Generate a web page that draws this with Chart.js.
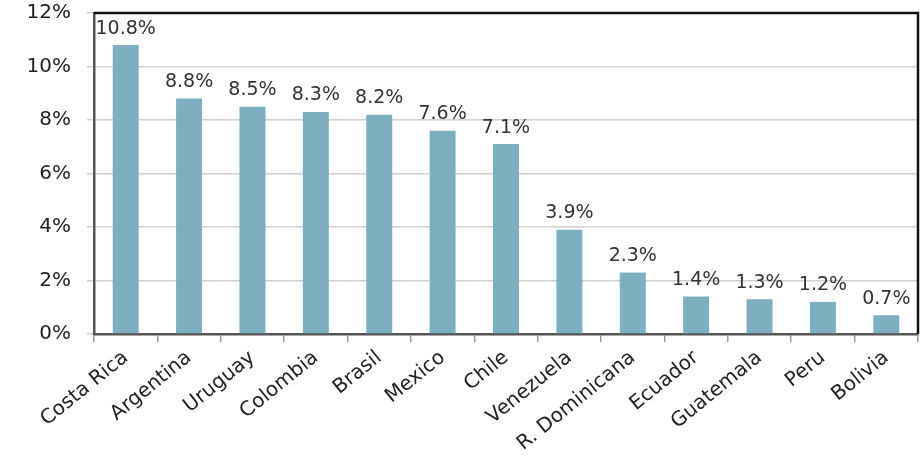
<!DOCTYPE html>
<html>
<head>
<meta charset="utf-8">
<script src="https://cdn.jsdelivr.net/npm/chart.js@4"></script>
<style>
  html, body { margin: 0; padding: 0; background: #fff; }
  #wrap { width: 924px; height: 465px; position: relative; }
</style>
</head>
<body>
<div id="wrap"><canvas id="chart"></canvas></div>
<script>
const countries = ["Costa Rica", "Argentina", "Uruguay", "Colombia", "Brasil", "Mexico", "Chile",
  "Venezuela", "R. Dominicana", "Ecuador", "Guatemala", "Peru", "Bolivia"];
const shares = [10.8, 8.8, 8.5, 8.3, 8.2, 7.6, 7.1, 3.9, 2.3, 1.4, 1.3, 1.2, 0.7];
const yTicks = [0, 2, 4, 6, 8, 10, 12];

const FONT = "'DejaVu Sans', sans-serif";

// labels above each bar
const barLabels = {
  id: "barLabels",
  afterDatasetsDraw(chart) {
    const ctx = chart.ctx;
    const meta = chart.getDatasetMeta(0);
    ctx.save();
    ctx.font = "19px " + FONT;
    ctx.fillStyle = "#333";
    ctx.textAlign = "center";
    ctx.textBaseline = "bottom";
    meta.data.forEach((bar, i) => {
      ctx.fillText(shares[i].toFixed(1) + "%", bar.x, bar.y - 7);
    });
    ctx.restore();
  }
};

// black frame on top and right of plot area
const frame = {
  id: "frame",
  afterDraw(chart) {
    const a = chart.chartArea;
    const ctx = chart.ctx;
    ctx.save();
    ctx.strokeStyle = "#111";
    ctx.lineWidth = 2.5;
    ctx.beginPath();
    ctx.moveTo(a.left, a.top);
    ctx.lineTo(a.right, a.top);
    ctx.lineTo(a.right, a.bottom);
    ctx.stroke();
    ctx.restore();
  }
};

new Chart(document.getElementById("chart"), {
  type: "bar",
  data: {
    labels: countries,
    datasets: [{
      data: shares,
      backgroundColor: "#7eafbf",
      borderWidth: 0,
      barPercentage: 0.82,
      categoryPercentage: 0.5
    }]
  },
  options: {
    responsive: true,
    maintainAspectRatio: false,
    animation: false,
    layout: { padding: { top: 13, right: 6, left: 0, bottom: 0 } },
    plugins: {
      legend: { display: false },
      tooltip: { enabled: false }
    },
    scales: {
      x: {
        grid: { drawOnChartArea: false, tickLength: 8, color: "#999", lineWidth: 1.5 },
        border: { color: "#555", width: 2.5 },
        ticks: {
          color: "#222",
          font: { family: FONT, size: 20 },
          minRotation: 39,
          maxRotation: 39,
          padding: 4
        },
        afterFit(scale) {
          scale.height = 131;
          scale.paddingLeft = 0;
          scale.paddingRight = 0;
        }
      },
      y: {
        min: yTicks[0],
        max: yTicks[yTicks.length - 1],
        afterBuildTicks(scale) { scale.ticks = yTicks.map(v => ({ value: v })); },
        grid: { color: "#d0d0d0", lineWidth: 1.5, tickLength: 7 },
        border: { color: "#555", width: 2.5 },
        ticks: {
          color: "#222",
          font: { family: FONT, size: 20 },
          padding: 16,
          callback: v => v + "%"
        },
        afterFit(scale) {
          scale.width = 94;
          scale.paddingTop = 0;
          scale.paddingBottom = 0;
        }
      }
    }
  },
  plugins: [barLabels, frame]
});
</script>
</body>
</html>
